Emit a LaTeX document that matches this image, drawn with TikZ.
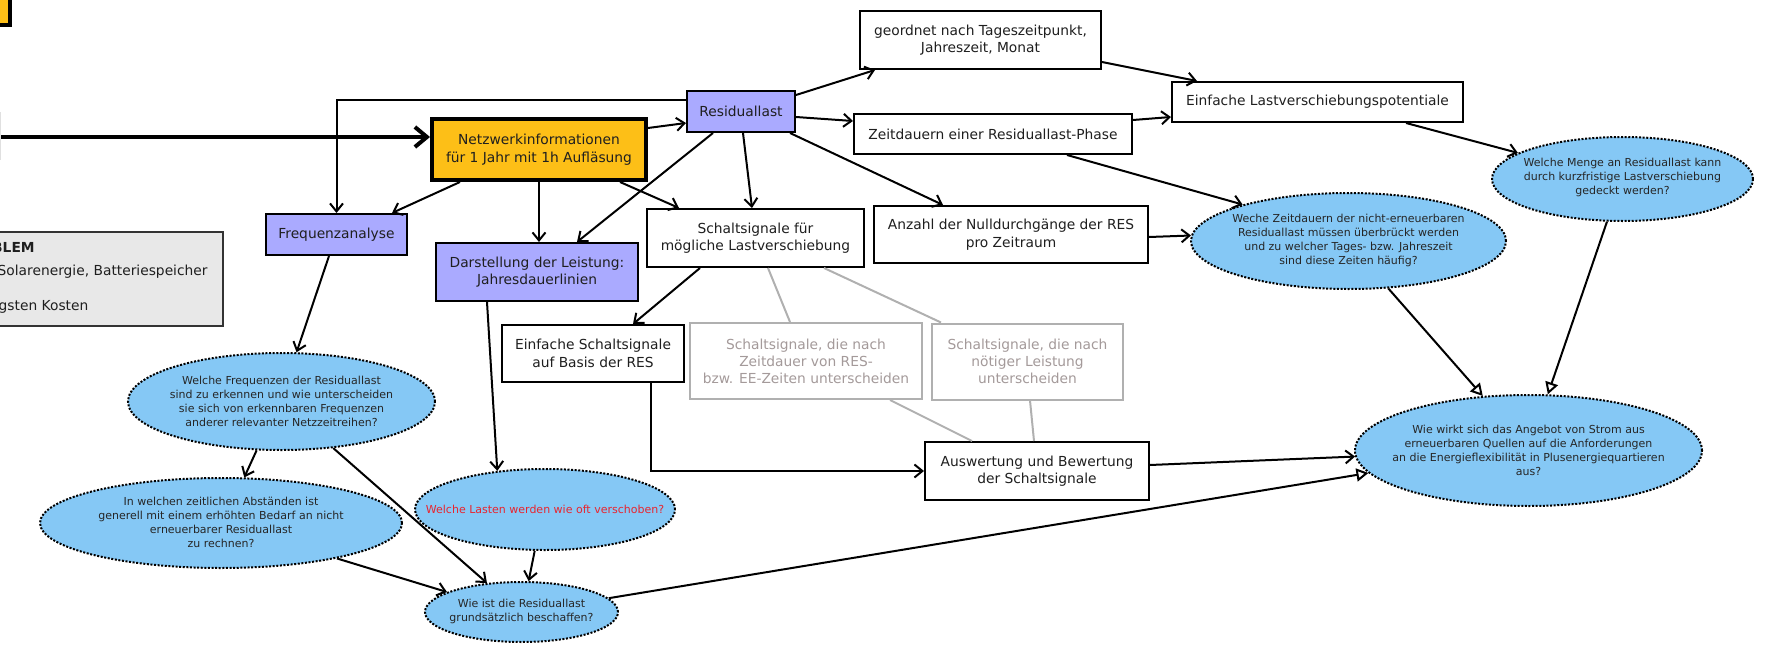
\documentclass[tikz,border=0pt]{standalone}
\usepackage{fontspec}
\setmainfont{DejaVu Sans}
\usetikzlibrary{arrows.meta,shapes.geometric,calc}
\definecolor{orng}{HTML}{FDBF17}
\definecolor{lavc}{HTML}{AAAAFF}
\definecolor{skyb}{HTML}{85C8F5}
\definecolor{grayfill}{HTML}{E8E8E8}
\definecolor{grayline}{HTML}{B0B0B0}
\definecolor{graytext}{HTML}{A49A9A}
\definecolor{qred}{HTML}{E8242E}
\begin{document}
\begin{tikzpicture}[x=1pt,y=-1pt,
  basebox/.style={draw=black, line width=2pt, inner sep=0pt, align=center, text=black!88, font=\fontsize{13.8}{17.5}\selectfont},
  lavbox/.style={basebox, fill=lavc},
  whbox/.style={basebox, fill=white},
  graybox/.style={basebox, draw=grayline, text=graytext, fill=white, font=\fontsize{13.8}{17}\selectfont},
  qell/.style={ellipse, draw=black, line width=2pt, dash pattern=on 2pt off 1.6pt, fill=skyb, inner sep=0pt},
  qtxt/.style={align=center, text=black!85, font=\fontsize{11}{14}\selectfont, inner sep=0pt},
  conn/.style={line width=2pt, -{Straight Barb[length=8pt,width=13pt]}},
  triconn/.style={line width=2pt, -{Triangle[open,length=12pt,width=13pt]}},
  grayconn/.style={line width=2pt, draw=grayline},
  thickconn/.style={line width=4pt, -{Straight Barb[length=12pt,width=20pt]}},
  ptxt/.style={anchor=base west, inner sep=0pt, text=black!88, font=\fontsize{13.8}{17}\selectfont}
]
\useasboundingbox (0,0) rectangle (1766,658);

% partial elements at the left border
\node[basebox, line width=4pt, fill=orng, minimum width=68pt, minimum height=83.5pt] (tl) at (-24,-16.5) {};
\node[basebox, draw=black!12, minimum width=59pt, minimum height=46pt] (lg) at (-29.5,136) {};
\node[basebox, draw=black!80, fill=grayfill, minimum width=282pt, minimum height=94pt] (pbox) at (82,279) {};
\node[ptxt, font=\bfseries\fontsize{13.8}{17}\selectfont] (pt1) at (-8,252) {BLEM};
\node[ptxt] (pt2) at (-2.5,275) {Solarenergie, Batteriespeicher};
\node[ptxt] (pt3) at (-1.5,310) {gsten Kosten};

% boxes
\node[basebox, line width=4pt, fill=orng, minimum width=214pt, minimum height=61pt] (netz) at (539,149.5) {Netzwerkinformationen\\für 1 Jahr mit 1h Aufläsung};
\node[lavbox, minimum width=108pt, minimum height=41pt] (resid) at (741,111.5) {Residuallast};
\node[lavbox, minimum width=202pt, minimum height=58pt] (darst) at (537,272) {Darstellung der Leistung:\\Jahresdauerlinien};
\node[whbox, minimum width=217pt, minimum height=58pt] (schalt) at (755.5,238) {Schaltsignale für\\mögliche Lastverschiebung};
\node[whbox, minimum width=241pt, minimum height=58pt] (geord) at (980.5,40) {geordnet nach Tageszeitpunkt,\\Jahreszeit, Monat};
\node[whbox, minimum width=278pt, minimum height=40pt] (zeitd) at (993,134) {Zeitdauern einer Residuallast-Phase};
\node[whbox, minimum width=291pt, minimum height=40pt] (elast) at (1317.5,102) {Einfache Lastverschiebungspotentiale};
\node[whbox, minimum width=274pt, minimum height=57pt] (anzahl) at (1011,234.5) {Anzahl der Nulldurchgänge der RES\\pro Zeitraum};
\node[lavbox, minimum width=141pt, minimum height=41pt] (freq) at (336.5,234.5) {Frequenzanalyse};
\node[whbox, minimum width=182pt, minimum height=57pt] (eschalt) at (593,353.5) {Einfache Schaltsignale\\auf Basis der RES};
\node[graybox, minimum width=232pt, minimum height=76pt] (gray1) at (806,361) {Schaltsignale, die nach\\Zeitdauer von RES-\\bzw. EE-Zeiten unterscheiden};
\node[graybox, minimum width=191pt, minimum height=76pt] (gray2) at (1027.5,361.5) {Schaltsignale, die nach\\nötiger Leistung\\unterscheiden};
\node[whbox, minimum width=224pt, minimum height=58pt] (ausw) at (1037,471) {Auswertung und Bewertung\\der Schaltsignale};

% question ellipses
\node[qell, minimum width=315pt, minimum height=96pt] (weche) at (1348.5,241) {};
\node[qtxt] (weche-t) at (1348.5,240) {Weche Zeitdauern der nicht-erneuerbaren\\Residuallast müssen überbrückt werden\\und zu welcher Tages- bzw. Jahreszeit\\sind diese Zeiten häufig?};
\node[qell, minimum width=261pt, minimum height=84pt] (menge) at (1622.5,179) {};
\node[qtxt] (menge-t) at (1622.5,177.5) {Welche Menge an Residuallast kann\\durch kurzfristige Lastverschiebung\\gedeckt werden?};
\node[qell, minimum width=347pt, minimum height=111pt] (wirkt) at (1528.5,450.5) {};
\node[qtxt] (wirkt-t) at (1528.5,450) {Wie wirkt sich das Angebot von Strom aus\\erneuerbaren Quellen auf die Anforderungen\\an die Energieflexibilität in Plusenergiequartieren\\aus?};
\node[qell, minimum width=307pt, minimum height=97pt] (wfreq) at (281.5,401.5) {};
\node[qtxt] (wfreq-t) at (281.5,401) {Welche Frequenzen der Residuallast\\sind zu erkennen und wie unterscheiden\\sie sich von erkennbaren Frequenzen\\anderer relevanter Netzzeitreihen?};
\node[qell, minimum width=362pt, minimum height=90pt] (wabst) at (221,523) {};
\node[qtxt] (wabst-t) at (221,522.5) {In welchen zeitlichen Abständen ist\\generell mit einem erhöhten Bedarf an nicht\\erneuerbarer Residuallast\\zu rechnen?};
\node[qell, minimum width=260pt, minimum height=81pt] (wlast) at (545,509.5) {};
\node[qtxt, text=qred] (wlast-t) at (545,509.5) {Welche Lasten werden wie oft verschoben?};
\node[qell, minimum width=193pt, minimum height=60pt] (wist) at (521.5,612) {};
\node[qtxt] (wist-t) at (521.5,611) {Wie ist die Residuallast\\grundsätzlich beschaffen?};

% connectors
\draw[conn] ([yshift=11.5pt]resid.west) -| (freq.north);
\draw[conn] ([xshift=-79pt]netz.south) -- ([xshift=55.5pt]freq.north);
\draw[conn] (netz.south) -- (netz.south |- darst.north);
\draw[conn] ([xshift=81pt]netz.south) -- ([xshift=-76.5pt]schalt.north);
\draw[conn] ([yshift=21.5pt]netz.east) -- ([yshift=-11.5pt]resid.west);
\draw[conn] ([xshift=-28pt]resid.south) -- ([xshift=40pt]darst.north);
\draw[conn] ([xshift=2pt]resid.south) -- ([xshift=-3.5pt]schalt.north);
\draw[conn] ([xshift=49pt]resid.south) -- ([xshift=-68pt]anzahl.north);
\draw[conn] ([yshift=16.5pt]resid.east) -- ([xshift=-105.5pt]geord.south);
\draw[conn] ([yshift=-5.5pt]resid.east) -- ([yshift=13pt]zeitd.west);
\draw[conn] ([yshift=-22pt]geord.east) -- ([xshift=-120.5pt]elast.north);
\draw[conn] ([yshift=14pt]zeitd.east) -- ([yshift=-15pt]elast.west);
\draw[conn] ([xshift=74pt]zeitd.south) -- (weche.161.5);
\draw[conn] ([yshift=-2.5pt]anzahl.east) -- (weche.178.5);
\draw[conn] ([xshift=88.5pt]elast.south) -- (menge.166);
\draw[triconn] (weche.310.8) -- (wirkt.130);
\draw[triconn] (menge.250.2) -- (wirkt.71.3);
\draw[conn] ([yshift=6pt]ausw.east) -- (wirkt.182.4);
\draw[triconn] (wist.9.2) -- (wirkt.188.9);
\draw[conn] ([xshift=-7.5pt]freq.south) -- (wfreq.73.7);
\draw[conn] (wfreq.243.7) -- (wabst.63.4);
\draw[conn] (wfreq.318.5) -- (wist.140.8);
\draw[conn] (wabst.343.5) -- (wist.165);
\draw[conn] (wlast.256.5) -- (wist.77.2);
\draw[conn] ([xshift=-50pt]darst.south) -- (wlast.141.7);
\draw[conn] ([xshift=-55.5pt]schalt.south) -- ([xshift=40pt]eschalt.north);
\draw[conn] ([xshift=58pt]eschalt.south) |- (ausw.west);
\draw[grayconn] ([xshift=12.5pt]schalt.south) -- ([xshift=-16pt]gray1.north);
\draw[grayconn] ([xshift=68.5pt]schalt.south) -- ([xshift=-86.5pt]gray2.north);
\draw[grayconn] ([xshift=84pt]gray1.south) -- ([xshift=-65pt]ausw.north);
\draw[grayconn] ([xshift=2.5pt]gray2.south) -- ([xshift=-3pt]ausw.north);
\draw[thickconn] ([yshift=-1pt]lg.east) -- ([yshift=-1pt]lg.east -| netz.west);
\end{tikzpicture}
\end{document}
